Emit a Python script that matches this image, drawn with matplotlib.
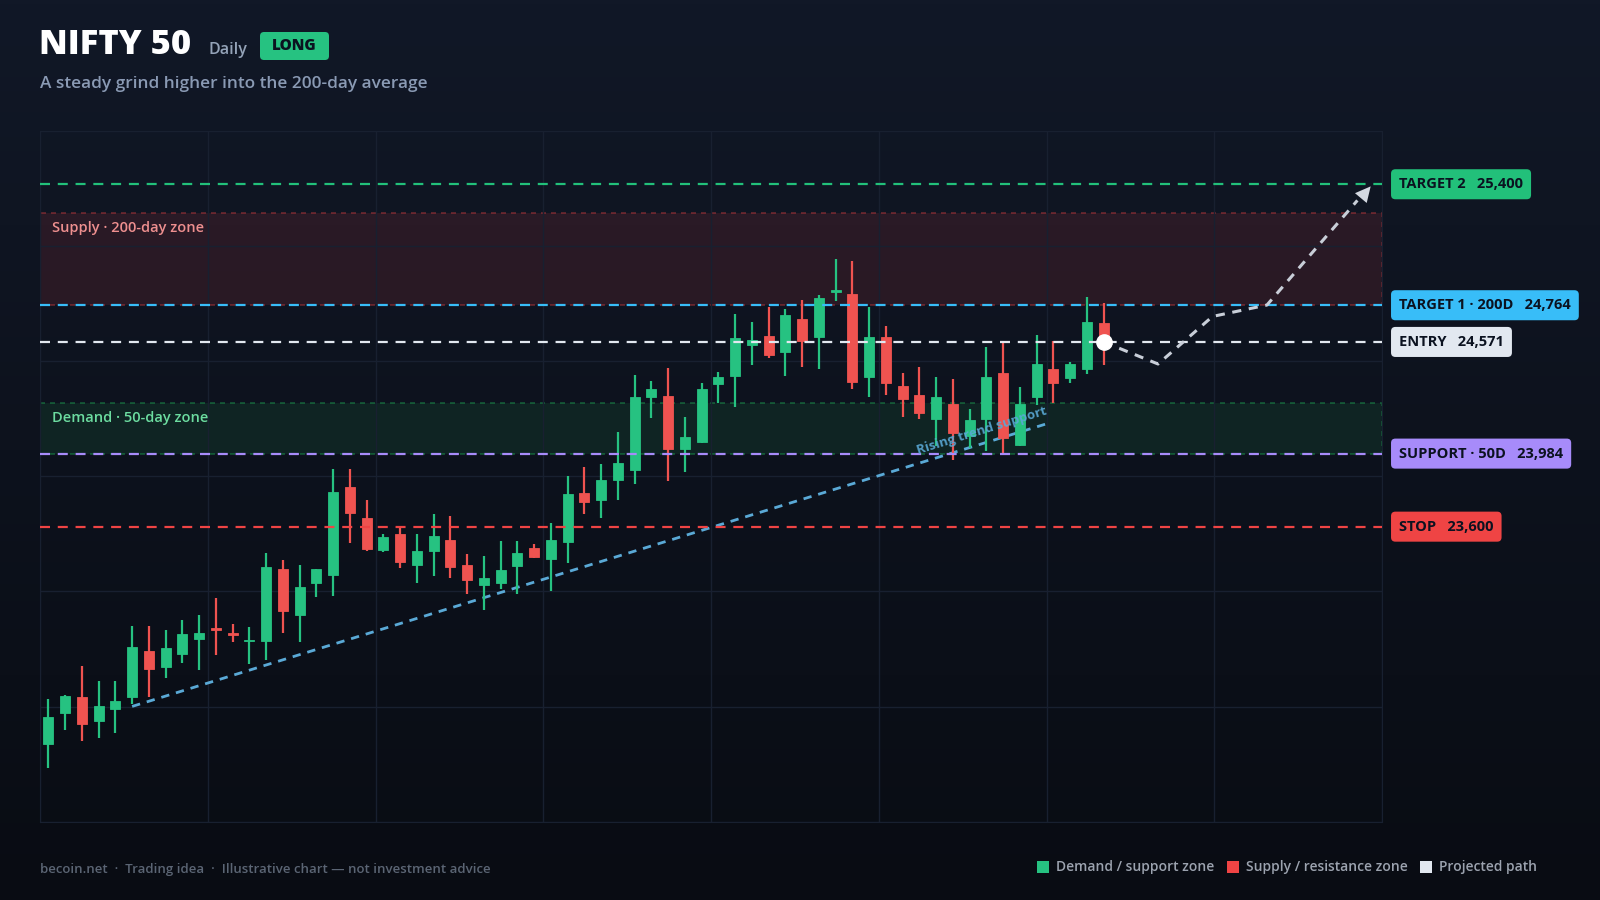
import numpy as np
import matplotlib
matplotlib.use("Agg")
import matplotlib.pyplot as plt
from matplotlib.patches import Rectangle, FancyBboxPatch
from matplotlib.colors import LinearSegmentedColormap
import matplotlib.transforms as mtransforms

plt.rcParams['font.family'] = ['Open Sans', 'DejaVu Sans']

# --- daily OHLC ---
opens = [22458, 22621, 22706, 22580, 22643, 22706, 22948, 22862, 22932, 23010,
         23066, 23040, 22998, 22998, 23376, 23136, 23302, 23348, 23807, 23644,
         23476, 23562, 23400, 23474, 23530, 23397, 23294, 23306, 23395, 23488,
         23429, 23518, 23776, 23740, 23847, 23900, 24280, 24289, 24010, 24045,
         24350, 24392, 24557, 24601, 24520, 24690, 24597, 24832, 24822, 24389,
         24596, 24340, 24294, 24166, 24245, 24078, 24165, 24406, 24030, 24280,
         24428, 24380, 24429, 24669]
highs = [22693, 22716, 22868, 22790, 22787, 23080, 23080, 23057, 23108, 23134,
         23224, 23087, 23071, 23460, 23425, 23397, 23380, 23903, 23902, 23740,
         23560, 23600, 23562, 23665, 23656, 23455, 23448, 23525, 23523, 23509,
         23621, 23867, 23915, 23930, 24100, 24398, 24366, 24433, 24175, 24354,
         24413, 24718, 24675, 24757, 24745, 24792, 24818, 25007, 24997, 24757,
         24655, 24406, 24438, 24387, 24377, 24217, 24543, 24567, 24333, 24608,
         24578, 24467, 24806, 24774]
lows = [22330, 22531, 22475, 22488, 22517, 22666, 22706, 22803, 22883, 22847,
        22926, 22992, 22878, 22901, 23040, 22994, 23229, 23234, 23513, 23474,
        23467, 23381, 23306, 23342, 23329, 23246, 23162, 23271, 23246, 23434,
        23264, 23408, 23665, 23646, 23740, 23825, 24173, 23842, 23889, 24040,
        24252, 24228, 24449, 24488, 24394, 24440, 24428, 24787, 24324, 24283,
        24292, 24178, 24165, 24024, 23951, 24012, 24000, 23986, 24025, 24240,
        24252, 24354, 24403, 24450]
closes = [22601, 22712, 22563, 22658, 22685, 22969, 22850, 22961, 23034, 23043,
          23057, 23029, 23006, 23390, 23155, 23282, 23376, 23781, 23670, 23483,
          23546, 23413, 23471, 23553, 23390, 23320, 23329, 23372, 23460, 23442,
          23532, 23772, 23731, 23846, 23935, 24282, 24322, 24009, 24070, 24324,
          24385, 24590, 24581, 24503, 24715, 24578, 24801, 24843, 24362, 24599,
          24357, 24271, 24196, 24280, 24094, 24159, 24389, 24068, 24245, 24457,
          24357, 24454, 24675, 24571]

# trade levels
level_names = ["TARGET 2", "TARGET 1 · 200D", "ENTRY", "SUPPORT · 50D", "STOP"]
level_values = [25400, 24764, 24571, 23984, 23600]
level_colors = ["#22c07a", "#38bdf8", "#e2e8f0", "#a78bfa", "#ef4444"]

# zones
supply_zone = (24764, 25250)
demand_zone = (23984, 24250)

# rising trend support (bar index, price)
trend_x = [5, 59.75]
trend_y = [22655, 24145]

# projected path (bar index, price)
proj_x = [63, 66.25, 69.5, 72.75, 79.05]
proj_y = [24571, 24455, 24705, 24765, 25400]

GREEN = "#26c281"
RED = "#ef5350"
W, H = 1600, 900


def px(x, y):
    return x / W, 1 - y / H


fig = plt.figure(figsize=(16, 9), dpi=100)
fig.patch.set_facecolor("#0b0f18")

# background gradient
bg = fig.add_axes([0, 0, 1, 1], zorder=-10)
cmap = LinearSegmentedColormap.from_list("bg", ["#111827", "#0d121d", "#090c13"])
bg.imshow(np.linspace(0, 1, 256).reshape(-1, 1), aspect="auto", cmap=cmap,
          extent=[0, 1, 0, 1])
bg.axis("off")

ax = fig.add_axes([40 / W, 1 - 821.7 / H, 1342 / W, 691.1 / H])
ax.set_facecolor("none")
ax.set_xlim(-0.5, 79.62)
ax.set_ylim(22049, 25682)
ax.set_xticks(np.linspace(-0.5, 79.62, 9))
ax.set_yticks(np.linspace(22049, 25682, 7))
ax.tick_params(length=0, labelbottom=False, labelleft=False)
ax.grid(True, color="#182030", lw=1)
for s in ax.spines.values():
    s.set_color("#182030")

# zones
ax.axhspan(*supply_zone, color="#ef4444", alpha=0.12, lw=0, zorder=1)
ax.axhspan(*demand_zone, color="#22c55e", alpha=0.10, lw=0, zorder=1)
ax.add_patch(Rectangle((-0.5, supply_zone[0]), 80.12, supply_zone[1] - supply_zone[0],
                       fill=False, ec="#ef4444", alpha=0.4, lw=1.2, ls=(0, (3, 3)), zorder=1.5))
ax.add_patch(Rectangle((-0.5, demand_zone[0]), 80.12, demand_zone[1] - demand_zone[0],
                       fill=False, ec="#22c55e", alpha=0.4, lw=1.2, ls=(0, (3, 3)), zorder=1.5))
ax.text(0.2, 25172, "Supply · 200-day zone", color="#ee8f8f", fontsize=10.5,
        fontweight="semibold", va="center", ha="left", zorder=6)
ax.text(0.2, 24173, "Demand · 50-day zone", color="#6cdca0", fontsize=10.5,
        fontweight="semibold", va="center", ha="left", zorder=6)

# trend line
ax.plot(trend_x, trend_y, color="#5aa9d6", lw=2, dashes=(3, 2.5), zorder=2)
p1 = ax.transData.transform((trend_x[0], trend_y[0]))
p2 = ax.transData.transform((trend_x[1], trend_y[1]))
ang = np.degrees(np.arctan2(p2[1] - p1[1], p2[0] - p1[0]))
ax.text(55.7, 24106, "Rising trend support", color="#5aa9d6", fontsize=9.5,
        fontweight="bold", rotation=ang, rotation_mode="anchor",
        ha="center", va="center", alpha=0.9, zorder=6)

# candles
x = np.arange(len(closes))
o = np.array(opens)
c = np.array(closes)
colors = [GREEN if cc >= oo else RED for oo, cc in zip(o, c)]
ax.vlines(x, lows, highs, colors=colors, lw=1.6, zorder=3)
body_bottom = np.minimum(o, c)
body_h = np.maximum(np.abs(c - o), 8)
ax.bar(x, body_h, bottom=body_bottom, width=0.6, color=colors,
       edgecolor=colors, lw=0.6, zorder=4)

# level lines + labels
blend = mtransforms.blended_transform_factory(ax.transAxes, ax.transData)
for name, val, col in zip(level_names, level_values, level_colors):
    ax.axhline(val, color=col, lw=1.6, dashes=(4.5, 3.5), zorder=5)
    ax.text(1.0127, val, f"{name}   {val:,}", transform=blend, color="#0b1220",
            fontsize=10.5, fontweight="bold", va="center", ha="left",
            bbox=dict(boxstyle="round,pad=0.55,rounding_size=0.3", fc=col, ec="none"),
            clip_on=False, zorder=10)

# projected path
ax.plot(proj_x[:-1] + [proj_x[-1] - 0.9], proj_y[:-1] + [proj_y[-1] - 85],
        color="#c8ced8", lw=2.2, dashes=(3, 2.5), zorder=6)
ax.annotate("", xy=(proj_x[-1], proj_y[-1]), xytext=(proj_x[-2] + 5.3, proj_y[-2] + 530),
            arrowprops=dict(arrowstyle="-|>,head_length=1.1,head_width=0.55",
                            color="#d4d9e1", lw=0), zorder=7)
ax.plot(proj_x[0], proj_y[0], "o", color="white", ms=11, zorder=8)

# header
fig.text(*px(39, 54.3), "NIFTY 50", color="white", fontsize=24.8, fontweight="heavy",
         va="baseline", ha="left")
fig.text(*px(208, 54.3), "Daily", color="#94a3b8", fontsize=11.5, fontweight="semibold",
         va="baseline", ha="left")
fig.patches.append(FancyBboxPatch((260, H - 60), 69, 28,
                                  boxstyle="round,pad=0,rounding_size=4",
                                  fc="#26c281", ec="none",
                                  transform=mtransforms.IdentityTransform(), figure=fig))
fig.text(*px(294.5, 46), "LONG", color="#0b1220", fontsize=11, fontweight="heavy",
         va="center", ha="center")
fig.text(*px(40, 87.7), "A steady grind higher into the 200-day average", color="#8a9ab4",
         fontsize=12.4, fontweight="semibold", va="baseline", ha="left")

# footer
fig.text(*px(40, 869), "becoin.net  ·  Trading idea  ·  Illustrative chart — not investment advice",
         color="#5b6574", fontsize=9.5, fontweight="semibold", va="center", ha="left")

legend_items = [("Demand / support zone", GREEN, 1037),
                ("Supply / resistance zone", "#ef4444", 1227),
                ("Projected path", "#e2e8f0", 1420)]
for label, col, lx in legend_items:
    fig.patches.append(Rectangle((lx, H - 872.5), 11.5, 11.5, fc=col, ec="none",
                                 transform=mtransforms.IdentityTransform(), figure=fig))
    fig.text(*px(lx + 19, 866.5), label, color="#9ca3af", fontsize=10,
             fontweight="semibold", va="center", ha="left")

fig.savefig("out.png", dpi=100, facecolor=fig.get_facecolor())
